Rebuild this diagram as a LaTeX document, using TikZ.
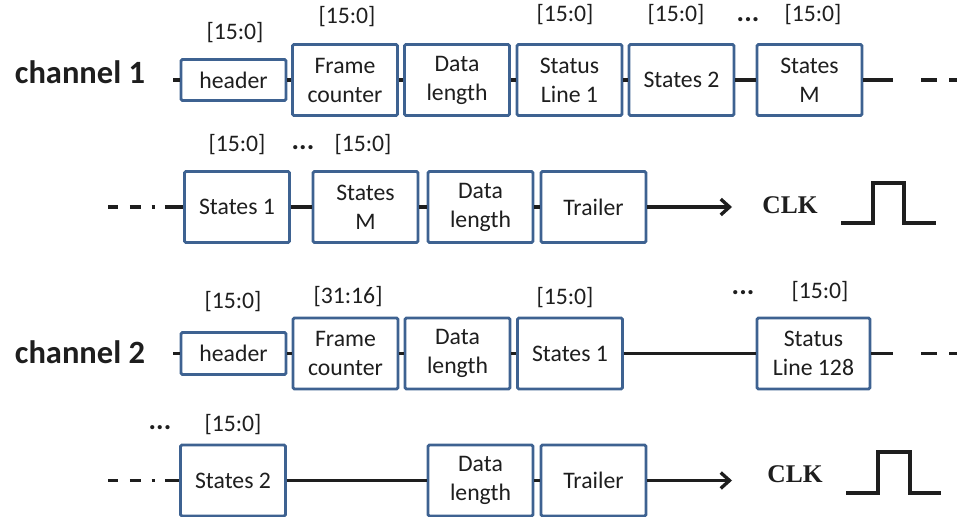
\documentclass[tikz,border=0pt]{standalone}
\usepackage{fontspec}
\setmainfont{Carlito}
\newfontfamily\timesfont{Liberation Serif}
\usepackage{xcolor}
\definecolor{boxblue}{RGB}{62,98,145}
\definecolor{ink}{RGB}{30,30,30}
\usepackage{tikz}
\usetikzlibrary{
    arrows.meta,
    positioning
}

\begin{document}
\begin{tikzpicture}[x=0.02cm, y=-0.02cm,
        field/.style={rectangle, rounded corners=0.8pt, draw=boxblue, line width=1.6pt, fill=white, text=ink, minimum width=2.1cm, minimum height=1.42cm, align=center, inner sep=0pt, font=\fontsize{13.5}{16.5}\selectfont},
        bits/.style={text=ink, inner sep=0pt, font=\fontsize{13.5}{16}\selectfont},
        dots/.style={text=ink, inner sep=0pt, font=\fontsize{16}{16}\selectfont\bfseries},
        chan/.style={text=ink, inner sep=0pt, font=\fontsize{18.5}{20}\selectfont\bfseries},
        clk/.style={text=ink, inner sep=0pt, font=\timesfont\fontsize{14.5}{16}\selectfont\bfseries},
        wire/.style={draw=ink, line width=1.9pt},
        tail/.style={wire, dash pattern=on 5.7pt off 6.8pt on 6.2pt off 6.2pt on 1.7pt off 5.7pt},
        more/.style={wire, dash pattern=on 9pt off 7pt},
        feed/.style={wire, -{Straight Barb[length=5pt, width=9pt]}}
    ]
        \useasboundingbox (0,0) rectangle (957,517);

        % channel 1, first line
        \node[chan] (ch1) at (80,72) {channel 1};
        \node[field, minimum height=0.82cm] (c1hdr) at (233.5,80) {header};
        \node[field] (c1frame) at (345,80) {Frame\\counter};
        \node[field] (c1len) at (457,80) {Data\\length};
        \node[field] (c1stat) at (569.5,80) {Status\\Line 1};
        \node[field] (c1st2) at (681.5,80) {States 2};
        \node[field] (c1stM) at (809.5,80) {States\\M};

        \node[bits] (b1hdr) at (235,33) {[15:0]};
        \node[bits] (b1frame) at (347,17) {[15:0]};
        \node[bits] (b1stat) at (565,15) {[15:0]};
        \node[bits] (b1st2) at (676,15) {[15:0]};
        \node[dots] (b1dots) at (748,20) {...};
        \node[bits] (b1stM) at (813,15) {[15:0]};

        \coordinate (c1in) at (173,80);
        \coordinate (c1out) at (893,80);
        \coordinate (c1end) at (957,80);
        \draw[wire] (c1in) -- (c1hdr);
        \draw[wire] (c1hdr) -- (c1frame);
        \draw[wire] (c1frame) -- (c1len);
        \draw[wire] (c1len) -- (c1stat);
        \draw[wire] (c1stat) -- (c1st2);
        \draw[wire] (c1st2) -- (c1stM);
        \draw[wire] (c1stM) -- (c1out);
        \draw[more] ([xshift=16] c1out) -- (c1end);

        % channel 1, second line
        \node[field] (c1st1) at (237,207) {States 1};
        \node[field] (c1stMb) at (365.5,207) {States\\M};
        \node[field] (c1len2) at (480.5,207) {Data\\length};
        \node[field] (c1trl) at (593.5,207) {Trailer};
        \node[clk] (c1clk) at (790,205) {CLK};

        \node[bits] (b1st1) at (237,145) {[15:0]};
        \node[dots] (b1dotsb) at (303,148) {...};
        \node[bits] (b1stMb) at (363,145) {[15:0]};

        \coordinate (c1back) at (108,207);
        \coordinate (c1join) at (165,207);
        \coordinate (c1tip) at (732,207);
        \draw[tail] (c1back) -- (c1join);
        \draw[wire] (c1join) -- (c1st1);
        \draw[wire] (c1st1) -- (c1stMb);
        \draw[wire] (c1stMb) -- (c1len2);
        \draw[wire] (c1len2) -- (c1trl);
        \draw[feed] (c1trl) -- (c1tip);
        \draw[wire] (841,223) -- (873,223) -- (873,183) -- (904,183) -- (904,223) -- (936,223);

        % channel 2, first line
        \node[chan] (ch2) at (80,352) {channel 2};
        \node[field, minimum height=0.84cm] (c2hdr) at (233.5,353.5) {header};
        \node[field] (c2frame) at (345.5,353.5) {Frame\\counter};
        \node[field] (c2len) at (457.5,353.5) {Data\\length};
        \node[field] (c2st1) at (570,353.5) {States 1};
        \node[field, minimum width=2.26cm] (c2stat) at (813.5,353.5) {Status\\Line 128};

        \node[bits] (b2hdr) at (233,302) {[15:0]};
        \node[bits] (b2frame) at (348,297) {[31:16]};
        \node[bits] (b2st1) at (565,298) {[15:0]};
        \node[dots] (b2dots) at (743,293) {...};
        \node[bits] (b2stat) at (820,292) {[15:0]};

        \coordinate (c2in) at (173,353.5);
        \coordinate (c2out) at (893,353.5);
        \coordinate (c2end) at (957,353.5);
        \draw[wire] (c2in) -- (c2hdr);
        \draw[wire] (c2hdr) -- (c2frame);
        \draw[wire] (c2frame) -- (c2len);
        \draw[wire] (c2len) -- (c2st1);
        \draw[wire] (c2st1) -- (c2stat);
        \draw[wire] (c2stat) -- (c2out);
        \draw[more] ([xshift=16] c2out) -- (c2end);

        % channel 2, second line
        \node[field] (c2st2) at (233,480.5) {States 2};
        \node[field] (c2len2) at (480.5,480.5) {Data\\length};
        \node[field] (c2trl) at (593.5,480.5) {Trailer};
        \node[clk] (c2clk) at (795,474) {CLK};

        \node[dots] (b2dotsb) at (160,428) {...};
        \node[bits] (b2st2) at (233,425) {[15:0]};

        \coordinate (c2back) at (108,480.5);
        \coordinate (c2join) at (165,480.5);
        \coordinate (c2tip) at (732,480.5);
        \draw[tail] (c2back) -- (c2join);
        \draw[wire] (c2join) -- (c2st2);
        \draw[wire] (c2st2) -- (c2len2);
        \draw[wire] (c2len2) -- (c2trl);
        \draw[feed] (c2trl) -- (c2tip);
        \draw[wire] (846,493) -- (878,493) -- (878,452) -- (910,452) -- (910,493) -- (941,493);
    \end{tikzpicture}
\end{document}
